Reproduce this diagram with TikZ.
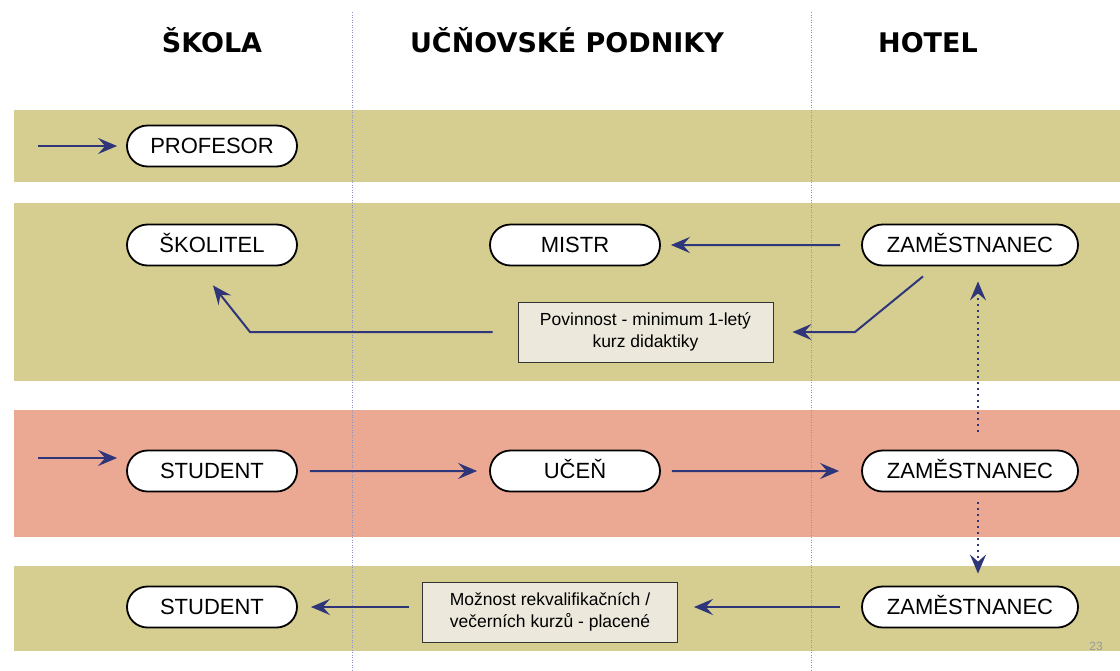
\documentclass[tikz,border=0pt]{standalone}
\usepackage{fontspec}
\setmainfont{Liberation Sans}
\newfontfamily\headfont{DejaVu Sans}
\usepackage{tikz}
\usetikzlibrary{shapes.misc}
\usetikzlibrary{arrows.meta}
\definecolor{olive}{HTML}{D5CE90}
\definecolor{salmon}{HTML}{EBA994}
\definecolor{navy}{HTML}{2E3679}
\definecolor{notefill}{HTML}{ECE8DC}
\definecolor{sepline}{HTML}{8C93C4}
\tikzstyle{pill}=[draw, fill=white, line width=1.8pt, rounded rectangle, inner sep=0pt, minimum width=170pt, minimum height=41pt, font=\fontsize{22}{22}\selectfont, text height=15.5pt, text depth=0pt]
\tikzstyle{wpill}=[pill, minimum width=216pt]
\tikzstyle{note}=[draw=black!80, line width=0.9pt, fill=notefill, inner sep=0pt, minimum width=255pt, minimum height=60pt, align=center, font=\fontsize{17.5}{22}\selectfont]
\tikzstyle{head}=[anchor=base, font=\headfont\bfseries\fontsize{27}{27}\selectfont]
\tikzstyle{flow}=[draw=navy, line width=2pt, -{Stealth[length=19pt, width=16pt, inset=7pt]}]
\tikzstyle{dflow}=[flow, dash pattern=on 2pt off 4pt]
\tikzstyle{sep}=[draw=sepline, line width=0.8pt, dash pattern=on 1pt off 1.5pt]

\begin{document}
\begin{tikzpicture}[x=1pt, y=-1pt]
        \useasboundingbox (0, 0) rectangle (1120, 670);
        \fill[olive]  (14, 110) rectangle (1120, 182);
        \fill[olive]  (14, 203) rectangle (1120, 381);
        \fill[salmon] (14, 410) rectangle (1120, 537);
        \fill[olive]  (14, 566) rectangle (1120, 651);
        \draw[sep] (352, 12) -- (352, 670);
        \draw[sep] (811, 12) -- (811, 670);
        \node[head] (H1) at (212, 52) {ŠKOLA};
        \node[head] (H2) at (567, 52) {UČŇOVSKÉ PODNIKY};
        \node[head] (H3) at (928, 52) {HOTEL};
        \node[pill]  (A1) at (212, 146) {PROFESOR};
        \node[pill]  (B1) at (212, 245) {ŠKOLITEL};
        \node[pill]  (B2) at (575, 245) {MISTR};
        \node[wpill] (B3) at (970, 245) {ZAMĚSTNANEC};
        \node[note]  (B4) at (645.5, 332) {Povinnost - minimum 1-letý\\kurz didaktiky};
        \node[pill]  (C1) at (212, 471) {STUDENT};
        \node[pill]  (C2) at (575, 471) {UČEŇ};
        \node[wpill] (C3) at (970, 471) {ZAMĚSTNANEC};
        \node[pill]  (D1) at (212, 607) {STUDENT};
        \node[note]  (D2) at (550, 612) {Možnost rekvalifikačních /\\večerních kurzů - placené};
        \node[wpill] (D3) at (970, 607) {ZAMĚSTNANEC};
        \node[text=black!40, font=\fontsize{12}{12}\selectfont] (N1) at (1096, 646) {23};
        \coordinate (a0) at (38, 146);
        \coordinate (c0) at (38, 458);
        \coordinate (k1) at (250, 332);
        \coordinate (k2) at (855, 332);
        \draw[flow, shorten >=9pt] (a0) -- (A1);
        \draw[flow] (c0) -- ([shift={(-9pt, 13pt)}]C1.west);
        \draw[flow, shorten <=21pt, shorten >=10pt] (B3) -- (B2);
        \draw[flow] ([shift={(-47pt, -10pt)}]B3.south) -- (k2) -- ([xshift=19pt]B4.east);
        \draw[flow] ([xshift=-25pt]B4.west) -- (k1) -- ([shift={(1pt, -19pt)}]B1.south);
        \draw[flow, shorten <=12pt, shorten >=12pt] (C1) -- (C2);
        \draw[flow, shorten <=11pt, shorten >=22pt] (C2) -- (C3);
        \draw[dflow] ([shift={(8pt, 18pt)}]C3.north) -- ([shift={(8pt, -15pt)}]B3.south);
        \draw[dflow] ([shift={(8pt, -10pt)}]C3.south) -- ([shift={(8pt, 12pt)}]D3.north);
        \draw[flow, shorten <=21pt, shorten >=16pt] (D3.west) -- (D2.east |- D3.west);
        \draw[flow, shorten <=13pt, shorten >=13pt] (D2.west |- D1.east) -- (D1.east);
    \end{tikzpicture}
\end{document}
